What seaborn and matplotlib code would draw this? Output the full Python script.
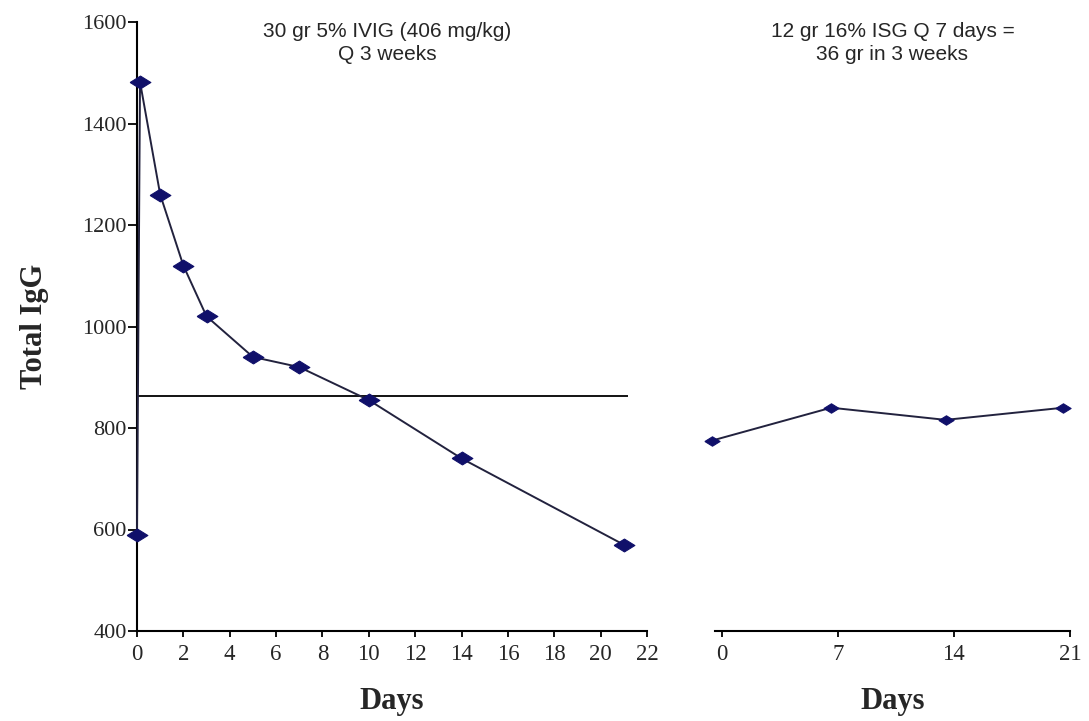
import numpy as np
import pandas as pd
import matplotlib
matplotlib.use("Agg")
import matplotlib.pyplot as plt
import seaborn as sns

# ---- data ----
ivig_days = [0, 0.13, 1, 2, 3, 5, 7, 10, 14, 21]
ivig_igg = [590, 1482, 1260, 1120, 1020, 940, 920, 855, 740, 570]
isg_days = [-0.6, 6.6, 13.5, 20.6]
isg_igg = [775, 840, 816, 840]
trough_level = 863
trough_end_day = 21.2
left_xticks = list(range(0, 23, 2))
right_xticks = [0, 7, 14, 21]
yticks = [400, 600, 800, 1000, 1200, 1400, 1600]
left_title = "30 gr 5% IVIG (406 mg/kg)\nQ 3 weeks"
right_title = "12 gr 16% ISG Q 7 days =\n36 gr in 3 weeks"
xlabel = "Days"
ylabel = "Total IgG"

sns.set_style("white")
plt.rcParams["font.family"] = ["Liberation Serif", "DejaVu Serif"]

W, H = 1089, 721
fig = plt.figure(figsize=(W / 100, H / 100), dpi=100)
axL = fig.add_axes([137 / W, 1 - 631 / H, (647 - 137) / W, (631 - 22) / H])
axR = fig.add_axes([715 / W, 1 - 631 / H, (1070 - 715) / W, (631 - 22) / H], sharey=axL)

diamond = [(-1, 0), (0, 0.62), (1, 0), (0, -0.62), (-1, 0)]
navy = "#10106a"
linec = "#22223e"

dfL = pd.DataFrame({"day": ivig_days, "igg": ivig_igg})
dfR = pd.DataFrame({"day": isg_days, "igg": isg_igg})

sns.lineplot(data=dfL, x="day", y="igg", ax=axL, sort=False, estimator=None,
             color=linec, lw=1.4, marker=diamond, markersize=15,
             markerfacecolor=navy, markeredgecolor=navy, clip_on=False, zorder=3)
sns.lineplot(data=dfR, x="day", y="igg", ax=axR, sort=False, estimator=None,
             color=linec, lw=1.4, marker=diamond, markersize=11,
             markerfacecolor=navy, markeredgecolor=navy, clip_on=False, zorder=3)

axL.hlines(trough_level, 0, trough_end_day, color="black", lw=1.3, zorder=2)

axL.set_xlim(0, 22)
axL.set_ylim(400, 1600)
axR.set_xlim(-0.4, 21)

for ax in (axL, axR):
    for s in ("top", "right"):
        ax.spines[s].set_visible(False)
    ax.spines["bottom"].set_color("black")
    ax.spines["bottom"].set_linewidth(1.5)
    ax.tick_params(axis="x", direction="out", length=4.5, width=1.3, color="black",
                   labelsize=16.5, pad=5, bottom=True)
    ax.set_xlabel(xlabel, fontsize=22, fontweight="bold", labelpad=16)
    ax.set_ylabel("")

axL.spines["left"].set_color("black")
axL.spines["left"].set_linewidth(1.5)
axL.tick_params(axis="y", direction="out", length=6.5, width=1.3, color="black",
                labelsize=16, pad=1, left=True)
axL.set_xticks(left_xticks)
axL.set_yticks(yticks)
axL.set_ylabel(ylabel, fontsize=22, fontweight="bold", labelpad=24)

axR.spines["left"].set_visible(False)
axR.tick_params(axis="y", left=False, labelleft=False)
axR.set_xticks(right_xticks)

axL.text(0.49, 1.0, left_title, transform=axL.transAxes, ha="center", va="top",
         fontsize=15, family=["Liberation Sans", "DejaVu Sans"], linespacing=1.25)
axR.text(0.5, 1.0, right_title, transform=axR.transAxes, ha="center", va="top",
         fontsize=15, family=["Liberation Sans", "DejaVu Sans"], linespacing=1.25)

fig.savefig("out.png", dpi=100, facecolor="white")
